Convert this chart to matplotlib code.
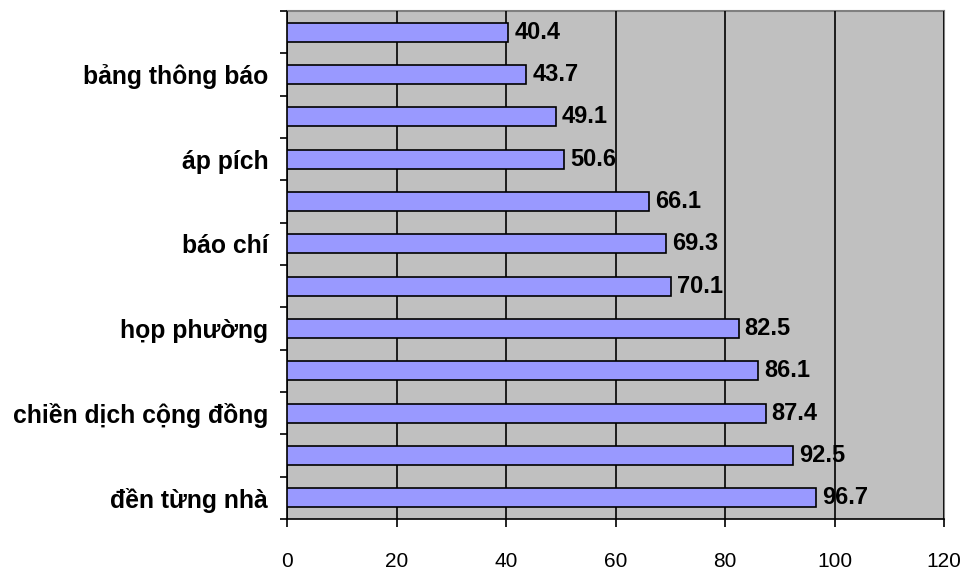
import matplotlib
matplotlib.use("Agg")
import matplotlib.pyplot as plt
import numpy as np

# categories bottom -> top (hidden labels left blank as in the reference)
categories = ["đền từng nhà", "", "chiền dịch cộng đồng", "", "họp phường", "",
              "báo chí", "", "áp pích", "", "bảng thông báo", ""]
values = [96.7, 92.5, 87.4, 86.1, 82.5, 70.1, 69.3, 66.1, 50.6, 49.1, 43.7, 40.4]
x_ticks = [0, 20, 40, 60, 80, 100, 120]

plt.rcParams['font.family'] = ['Liberation Sans', 'DejaVu Sans']

fig = plt.figure(figsize=(9.66, 5.74), dpi=100)
ax = fig.add_axes([287/966, 55/574, (944-287)/966, (519-11)/574])
ax.set_facecolor('#C0C0C0')

y = np.arange(len(values))
ax.barh(y, values, height=0.45, color='#9999FF', edgecolor='black', linewidth=1.2, zorder=3)
for yi, v in zip(y, values):
    ax.text(v + 1.1, yi, f"{v:.1f}", va='center', ha='left', fontsize=17, fontweight='bold', zorder=2)

ax.set_xlim(0, 120)
ax.set_ylim(-0.5, len(values) - 0.5)
ax.set_xticks(x_ticks)
ax.set_xticklabels([str(t) for t in x_ticks], fontsize=15)
ax.set_axisbelow(False)
ax.xaxis.grid(True, color='black', linewidth=1.2)

# y: tick marks at category boundaries, labels at centres
ax.set_yticks(np.arange(-0.5, len(values), 1.0))
ax.set_yticklabels([])
ax.set_yticks(y, minor=True)
ax.set_yticklabels(categories, minor=True, fontsize=17.8, fontweight='bold')
ax.tick_params(axis='y', which='minor', length=0, pad=13.5)
ax.tick_params(axis='y', which='major', length=5, width=1.2, direction='out')
ax.tick_params(axis='x', length=6, width=1.2, direction='out', pad=18)

ax.spines['left'].set_color('black')
ax.spines['left'].set_linewidth(1.2)
ax.spines['bottom'].set_color('black')
ax.spines['bottom'].set_linewidth(1.2)
ax.spines['top'].set_color('#808080')
ax.spines['top'].set_linewidth(1.5)
ax.spines['right'].set_color('#808080')
ax.spines['right'].set_linewidth(1.5)

fig.savefig("out.png", dpi=100)
